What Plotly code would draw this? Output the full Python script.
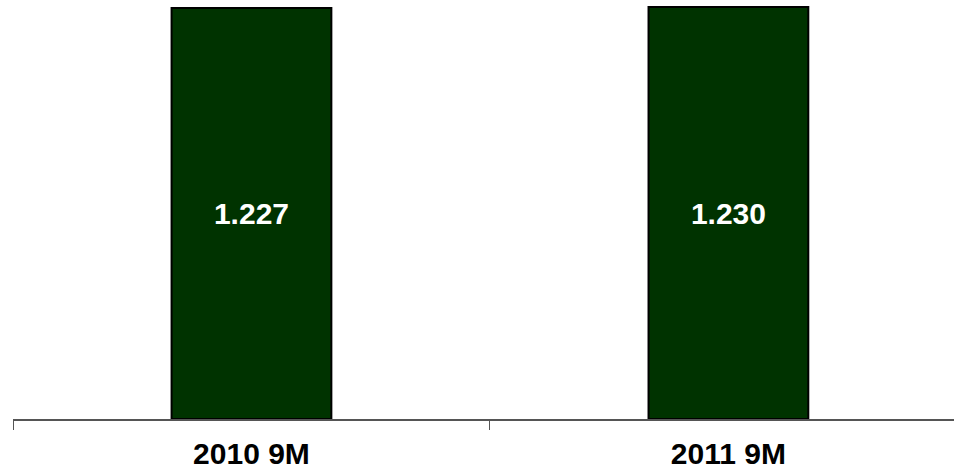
import plotly.graph_objects as go

categories = ["2010 9M", "2011 9M"]
values = [1.227, 1.230]
value_labels = ["1.227", "1.230"]

fig = go.Figure()
fig.add_trace(go.Bar(
    x=categories,
    y=values,
    text=value_labels,
    textposition="inside",
    insidetextanchor="middle",
    textfont=dict(family="Liberation Sans, Arial, sans-serif", size=30, color="white", weight="bold"),
    marker=dict(color="#003300", line=dict(color="black", width=2)),
    width=0.335,
    hoverinfo="skip",
))

fig.update_layout(
    width=954, height=475,
    margin=dict(l=13, r=0, t=0, b=56),
    paper_bgcolor="white", plot_bgcolor="white",
    showlegend=False,
    uniformtext=dict(mode=False),
    font=dict(family="Liberation Sans, Arial, sans-serif", color="black"),
)
fig.update_xaxes(
    range=[-0.5, 1.473],
    tickson="boundaries",
    ticks="outside", ticklen=9, tickwidth=1, tickcolor="#555555",
    showline=True, linecolor="#555555", linewidth=2,
    showgrid=False, zeroline=False,
    ticklabelstandoff=7,
    tickfont=dict(family="Liberation Sans, Arial, sans-serif", size=30, color="black", weight="bold"),
)
fig.update_yaxes(
    range=[0, 1.2509],
    visible=False, showgrid=False, zeroline=False,
)

fig.write_html("out.html")
